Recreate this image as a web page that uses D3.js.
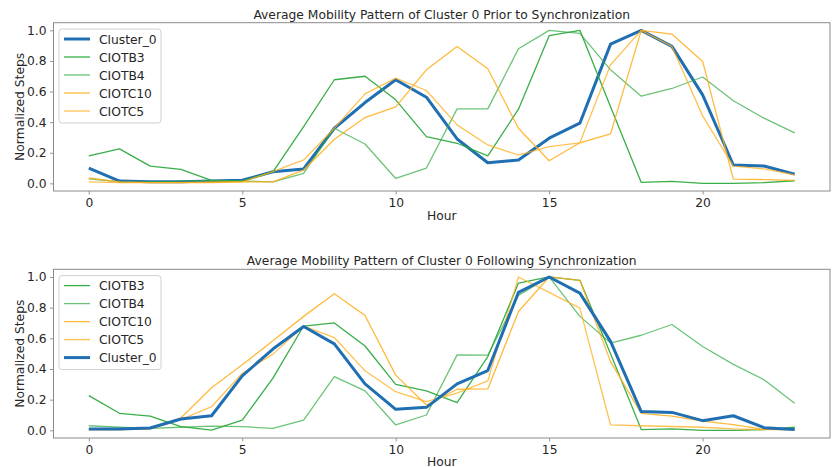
<!DOCTYPE html>
<html>
<head>
<meta charset="utf-8">
<script src="https://cdn.jsdelivr.net/npm/d3@7"></script>
<style>
  html, body { margin: 0; padding: 0; background: #fff; }
  svg { display: block; font-family: "DejaVu Sans", sans-serif; }
</style>
</head>
<body>
<svg id="chart" width="835" height="467"></svg>
<script>
// Hour of day on the x axis
const hours = [0,1,2,3,4,5,6,7,8,9,10,11,12,13,14,15,16,17,18,19,20,21,22,23];
const xTicks = [0, 5, 10, 15, 20];
const yTicks = [0.0, 0.2, 0.4, 0.6, 0.8, 1.0];

// Normalized steps per hour, before synchronization
const preCluster0 = [0.10,0.015,0.01,0.01,0.015,0.02,0.076,0.094,0.36,0.528,0.677,0.563,0.29,0.135,0.153,0.295,0.393,0.91,1.0,0.895,0.578,0.12,0.113,0.06];
const preCIOTB3 = [0.18,0.225,0.113,0.092,0.02,0.015,0.075,0.37,0.677,0.70,0.546,0.305,0.262,0.179,0.485,0.965,1.0,0.5,0.006,0.013,0.0,0.0,0.005,0.017];
const preCIOTB4 = [0.03,0.01,0.01,0.015,0.02,0.015,0.01,0.065,0.36,0.257,0.032,0.10,0.487,0.487,0.88,1.0,0.98,0.742,0.57,0.62,0.695,0.54,0.426,0.33];
const preCIOTC10 = [0.035,0.01,0.005,0.005,0.005,0.01,0.01,0.087,0.288,0.43,0.50,0.742,0.895,0.749,0.36,0.148,0.265,0.323,1.0,0.976,0.797,0.028,0.025,0.02];
const preCIOTC5 = [0.01,0.005,0.005,0.005,0.01,0.01,0.076,0.153,0.36,0.585,0.688,0.607,0.382,0.251,0.185,0.24,0.265,0.775,1.0,0.895,0.441,0.113,0.094,0.055];

// Normalized steps per hour, after synchronization
const postCIOTB3 = [0.226,0.111,0.093,0.024,0.002,0.067,0.34,0.68,0.70,0.55,0.30,0.257,0.18,0.48,0.96,1.0,0.978,0.5,0.005,0.01,0.0,0.0,0.005,0.02];
const postCIOTB4 = [0.03,0.02,0.013,0.02,0.028,0.024,0.013,0.067,0.35,0.257,0.035,0.10,0.492,0.49,0.88,1.0,0.743,0.569,0.62,0.69,0.547,0.43,0.33,0.176];
const postCIOTC10 = [0.005,0.005,0.01,0.08,0.278,0.427,0.584,0.743,0.89,0.749,0.36,0.165,0.268,0.27,0.775,1.0,0.978,0.448,0.111,0.093,0.06,0.037,0.006,0.005];
const postCIOTC5 = [0.005,0.005,0.01,0.07,0.154,0.372,0.497,0.68,0.605,0.388,0.252,0.187,0.242,0.322,1.0,0.9,0.797,0.035,0.03,0.025,0.02,0.01,0.005,0.005];
const postCluster0 = [0.008,0.008,0.015,0.074,0.095,0.355,0.53,0.677,0.564,0.303,0.137,0.15,0.303,0.39,0.90,1.0,0.895,0.58,0.122,0.117,0.063,0.095,0.017,0.006];

// Line styles per series
const styles = {
  "Cluster_0": { color: "#1f6fb2", width: 3, opacity: 1 },
  "CIOTB3":    { color: "#2eaa3f", width: 1.3, opacity: 0.95 },
  "CIOTB4":    { color: "#2eaa3f", width: 1.3, opacity: 0.7 },
  "CIOTC10":   { color: "#ffae1a", width: 1.3, opacity: 0.85 },
  "CIOTC5":    { color: "#ffae1a", width: 1.3, opacity: 0.75 }
};

const panels = [
  {
    title: "Average Mobility Pattern of Cluster 0 Prior to Synchronization",
    top: 22.7, bottom: 191, labelGap: 29,
    series: [
      { name: "Cluster_0", values: preCluster0 },
      { name: "CIOTB3", values: preCIOTB3 },
      { name: "CIOTB4", values: preCIOTB4 },
      { name: "CIOTC10", values: preCIOTC10 },
      { name: "CIOTC5", values: preCIOTC5 }
    ]
  },
  {
    title: "Average Mobility Pattern of Cluster 0 Following Synchronization",
    top: 269.3, bottom: 438, labelGap: 27.5,
    series: [
      { name: "CIOTB3", values: postCIOTB3 },
      { name: "CIOTB4", values: postCIOTB4 },
      { name: "CIOTC10", values: postCIOTC10 },
      { name: "CIOTC5", values: postCIOTC5 },
      { name: "Cluster_0", values: postCluster0 }
    ]
  }
];

const svg = d3.select("#chart");
const left = 53.5, right = 830;
const fontSize = 12.3;
const spineColor = "#8a8a8a";
const textColor = "#262626";

const x = d3.scaleLinear().domain([-1.15, 24.15]).range([left, right]);

panels.forEach(p => {
  const y = d3.scaleLinear().domain([-0.05, 1.05]).range([p.bottom, p.top]);
  const g = svg.append("g");

  // clip lines to the axes area
  const clipId = "clip" + Math.round(p.top);
  svg.append("clipPath").attr("id", clipId)
    .append("rect").attr("x", left).attr("y", p.top)
    .attr("width", right - left).attr("height", p.bottom - p.top);

  const line = d3.line().x((d, i) => x(hours[i])).y(d => y(d));
  const lines = g.append("g").attr("clip-path", `url(#${clipId})`);
  p.series.forEach(s => {
    const st = styles[s.name];
    lines.append("path")
      .datum(s.values)
      .attr("d", line)
      .attr("fill", "none")
      .attr("stroke", st.color)
      .attr("stroke-width", st.width)
      .attr("stroke-opacity", st.opacity)
      .attr("stroke-linejoin", "round")
      .attr("stroke-linecap", "butt");
  });

  // axes
  const xAxis = d3.axisBottom(x).tickValues(xTicks).tickFormat(d3.format("d"))
    .tickSizeInner(3.5).tickSizeOuter(0).tickPadding(3.5);
  const yAxis = d3.axisLeft(y).tickValues(yTicks).tickFormat(d3.format(".1f"))
    .tickSizeInner(3.5).tickSizeOuter(0).tickPadding(3.5);

  const gx = g.append("g").attr("transform", `translate(0,${p.bottom})`).call(xAxis);
  const gy = g.append("g").attr("transform", `translate(${left},0)`).call(yAxis);
  [gx, gy].forEach(a => {
    a.select(".domain").remove();
    a.selectAll(".tick line").attr("stroke", spineColor).attr("stroke-width", 0.9);
    a.selectAll(".tick text").attr("fill", textColor)
      .style("font-size", fontSize + "px").style("font-family", "DejaVu Sans");
  });

  // frame
  g.append("rect")
    .attr("x", left).attr("y", p.top)
    .attr("width", right - left).attr("height", p.bottom - p.top)
    .attr("fill", "none").attr("stroke", spineColor).attr("stroke-width", 1);

  // title
  g.append("text")
    .attr("x", (left + right) / 2).attr("y", p.top - 4)
    .attr("text-anchor", "middle").attr("fill", textColor)
    .style("font-size", fontSize + "px")
    .text(p.title);

  // axis labels
  g.append("text")
    .attr("x", (left + right) / 2).attr("y", p.bottom + p.labelGap)
    .attr("text-anchor", "middle").attr("fill", textColor)
    .style("font-size", fontSize + "px")
    .text("Hour");
  g.append("text")
    .attr("transform", `translate(24,${(p.top + p.bottom) / 2}) rotate(-90)`)
    .attr("text-anchor", "middle").attr("fill", textColor)
    .style("font-size", fontSize + "px")
    .text("Normalized Steps");

  // legend
  const lg = g.append("g");
  const boxTop = p.top + 6.3;
  lg.append("rect")
    .attr("x", 59).attr("y", boxTop)
    .attr("width", 102).attr("height", 94)
    .attr("rx", 3).attr("fill", "#fff").attr("fill-opacity", 0.8)
    .attr("stroke", "#d0d0d0").attr("stroke-width", 1);
  p.series.forEach((s, i) => {
    const st = styles[s.name];
    const cy = boxTop + 10 + i * 18;
    lg.append("line")
      .attr("x1", 64).attr("x2", 90).attr("y1", cy).attr("y2", cy)
      .attr("stroke", st.color).attr("stroke-width", st.width)
      .attr("stroke-opacity", st.opacity);
    lg.append("text")
      .attr("x", 99).attr("y", cy + 4.5)
      .attr("fill", textColor)
      .style("font-size", fontSize + "px")
      .text(s.name);
  });
});
</script>
</body>
</html>
